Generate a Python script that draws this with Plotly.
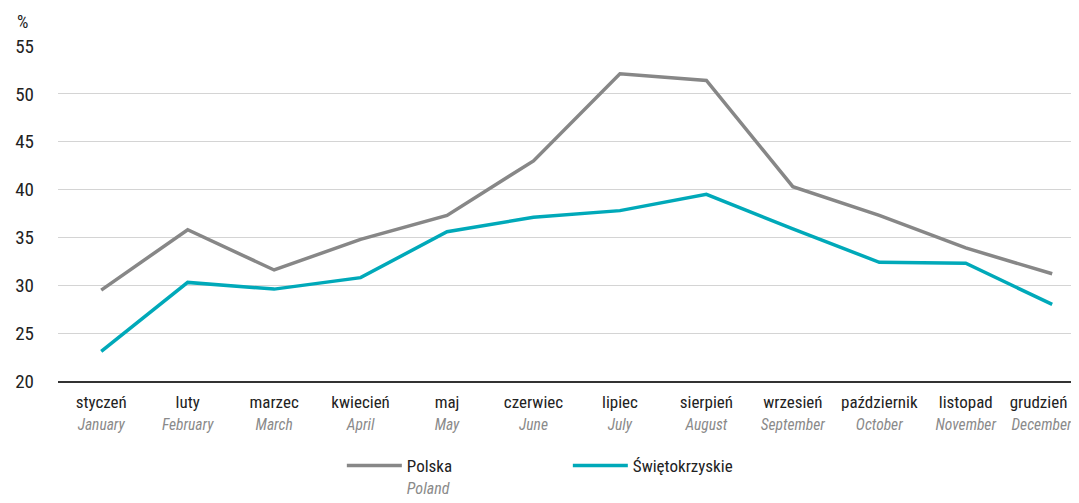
import plotly.graph_objects as go

months_pl = ["styczeń", "luty", "marzec", "kwiecień", "maj", "czerwiec", "lipiec",
             "sierpień", "wrzesień", "październik", "listopad", "grudzień"]
months_en = ["January", "February", "March", "April", "May", "June", "July",
             "August", "September", "October", "November", "December"]
polska = [29.5, 35.8, 31.6, 34.8, 37.3, 43.0, 52.1, 51.4, 40.3, 37.3, 33.9, 31.2]
swietokrzyskie = [23.1, 30.3, 29.6, 30.8, 35.6, 37.1, 37.8, 39.5, 35.9, 32.4, 32.3, 28.0]
y_ticks = [20, 25, 30, 35, 40, 45, 50, 55]

FONT = "Roboto Condensed, Liberation Sans Narrow, Roboto, sans-serif"
GREY = "#878787"
TEAL = "#00a9b9"

ticktext = []
for i, (p, e) in enumerate(zip(months_pl, months_en)):
    pad_p = "&nbsp;" * 7 if i == len(months_pl) - 1 else ""
    pad_e = "&nbsp;" * 6 if i == len(months_pl) - 1 else ""
    ticktext.append(f"{p}{pad_p}<br><span style='font-size:15.5px;color:#8a8a8a'><i>{e}</i>{pad_e}</span>")

fig = go.Figure()
fig.add_trace(go.Scatter(x=months_pl, y=polska, mode="lines",
                         name="Polska<br><span style='font-size:16px;color:#8a8a8a'><i>Poland</i></span>",
                         line=dict(color=GREY, width=3.5)))
fig.add_trace(go.Scatter(x=months_pl, y=swietokrzyskie, mode="lines",
                         name="Świętokrzyskie",
                         line=dict(color=TEAL, width=3.5)))

fig.update_layout(
    width=1071, height=495,
    margin=dict(l=50, r=0, t=38, b=122, autoexpand=False),
    paper_bgcolor="white", plot_bgcolor="white",
    font=dict(family=FONT, size=17, color="#222"),
    showlegend=True,
    legend=dict(orientation="h", x=0.278, y=-0.2, xanchor="left", yanchor="top",
                entrywidth=156, entrywidthmode="pixels", valign="top", itemwidth=55,
                font=dict(size=17, color="#222"), traceorder="normal"),
    xaxis=dict(tickmode="array", tickvals=months_pl, ticktext=ticktext,
               showgrid=False, showline=True, linecolor="#333", linewidth=1.5,
               ticks="", ticklabelstandoff=5, range=[-0.5, 11.31], automargin=False,
               tickfont=dict(size=17, color="#222")),
    yaxis=dict(range=[20, 55], tickvals=y_ticks, showgrid=True, gridcolor="#d4d4d4",
               gridwidth=1, zeroline=False, showline=False, ticks="", automargin=False,
               ticklabelstandoff=23, tickfont=dict(size=19, color="#222")),
    annotations=[dict(text="%", xref="paper", yref="paper", x=-0.035, y=1.072,
                      xanchor="center", yanchor="middle", showarrow=False,
                      font=dict(size=18, color="#222"))],
)

fig.write_html("out.html")
